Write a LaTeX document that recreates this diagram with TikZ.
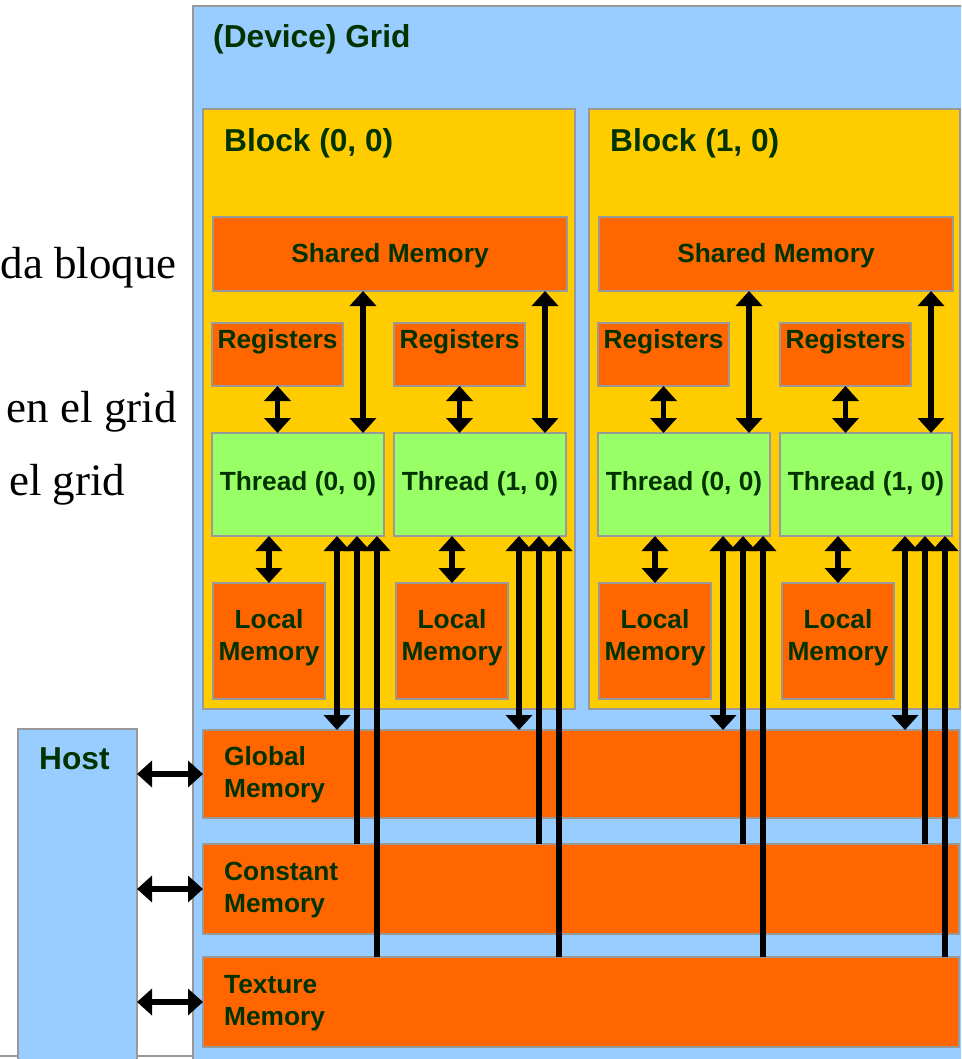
\documentclass[tikz,border=0pt]{standalone}
\usepackage{fontspec}
\setmainfont{Liberation Sans}
\newfontfamily\notefont{Liberation Serif}
\usetikzlibrary{arrows.meta,calc}

\definecolor{gridblue}{HTML}{99CCFF}
\definecolor{blockyellow}{HTML}{FFCC00}
\definecolor{memorange}{HTML}{FF6600}
\definecolor{threadgreen}{HTML}{99FF66}
\definecolor{edgegray}{HTML}{999999}
\definecolor{labelgreen}{HTML}{003300}

\tikzset{
  box/.style={draw=edgegray, line width=2pt, rectangle, inner sep=0pt,
              outer sep=0pt, anchor=north west},
  lbl/.style={text=labelgreen, inner sep=0pt,
              font=\bfseries\fontsize{26.3}{32}\selectfont},
  ttl/.style={lbl, font=\bfseries\fontsize{31.7}{38}\selectfont},
  note/.style={inner sep=0pt, font=\notefont\fontsize{45}{50}\selectfont},
  tip/.tip={Triangle[width=26pt,length=15pt]},
  dbl/.style={line width=5.5pt, tip-tip},
  upar/.style={line width=5.5pt, -tip},
}

\begin{document}
\begin{tikzpicture}[x=1pt,y=-1pt]
\useasboundingbox (0,0) rectangle (961,1059);
\clip (0,0) rectangle (961,1059);

% page edge line behind the host box
\draw[edgegray, line width=1.5pt] (0,1056) -- (193,1056);

% notes on the left
\node[note, anchor=base east] (n1) at (177,278) {da bloque};
\node[note, anchor=base east] (n2) at (177,422) {en el grid};
\node[note, anchor=base west] (n3) at (9,495) {el grid};

% device grid
\node[box, fill=gridblue, minimum width=800pt, minimum height=1100pt] (grid) at (193,6) {};
\node[ttl, anchor=base west] (gridlbl) at (213,48) {(Device) Grid};

% blocks with their shared memory, registers, threads and local memory
% (a two-line label is placed by the baseline of its last line)
\foreach \b/\ox/\bw in {0/0/372,1/386/371} {
  \node[box, fill=blockyellow, minimum width=\bw pt, minimum height=600pt] (blk\b) at (203+\ox,109) {};
  \node[ttl, anchor=base west] (blklbl\b) at (224+\ox,152) {Block (\b, 0)};
  \node[box, fill=memorange, minimum width=354pt, minimum height=74pt] (shm\b) at (213+\ox,217) {};
  \node[lbl, anchor=base] (shmlbl\b) at (390+\ox,262) {Shared Memory};
  \foreach \t/\tx/\lx in {0/0/0,1/182/183} {
    \node[box, fill=memorange, minimum width=131pt, minimum height=63pt] (reg\b\t) at (212+\ox+\tx,323) {};
    \node[lbl, anchor=base] (reglbl\b\t) at (277.5+\ox+\tx,348) {Registers};
    \node[box, fill=threadgreen, minimum width=172pt, minimum height=103pt] (thr\b\t) at (212+\ox+\tx,433) {};
    \node[lbl, anchor=base] (thrlbl\b\t) at (298+\ox+\tx,490) {Thread (\t, 0)};
    \node[box, fill=memorange, minimum width=112pt, minimum height=116pt] (loc\b\t) at (213+\ox+\lx,583) {};
    \node[lbl, anchor=base, align=center] (loclbl\b\t) at (269+\ox+\lx,660) {Local\\Memory};
  }
}

% global, constant and texture memory
\node[box, fill=memorange, minimum width=756pt, minimum height=88pt] (gmem) at (203,730) {};
\node[lbl, anchor=base west, align=left] (gmemlbl) at (224,797) {Global\\Memory};
\node[box, fill=memorange, minimum width=756pt, minimum height=90pt] (cmem) at (203,844) {};
\node[lbl, anchor=base west, align=left] (cmemlbl) at (224,912) {Constant\\Memory};
\node[box, fill=memorange, minimum width=756pt, minimum height=90pt] (tmem) at (203,957) {};
\node[lbl, anchor=base west, align=left] (tmemlbl) at (224,1025) {Texture\\Memory};

% host
\node[box, fill=gridblue, minimum width=119pt, minimum height=400pt] (host) at (18,729) {};
\node[ttl, anchor=base west] (hostlbl) at (39,769) {Host};

% host transfers
\draw[dbl] (host.east |- gmem.west) -- (gmem.west);
\draw[dbl] (host.east |- cmem.west) -- (cmem.west);
\draw[dbl] (host.east |- tmem.west) -- (tmem.west);

% per-thread memory accesses
\foreach \b in {0,1} {
  \foreach \t in {0,1} {
    \coordinate (sh\b\t) at ([xshift=-21pt]thr\b\t.north east);
    \coordinate (ga\b\t) at ([xshift=-47pt]thr\b\t.south east);
    \coordinate (ca\b\t) at ([xshift=-27pt]thr\b\t.south east);
    \coordinate (ta\b\t) at ([xshift=-7pt]thr\b\t.south east);
    \draw[dbl] (reg\b\t.south) -- (reg\b\t.south |- thr\b\t.north);
    \draw[dbl] (sh\b\t |- shm\b.south) -- (sh\b\t);
    \draw[dbl] (loc\b\t.north |- thr\b\t.south) -- (loc\b\t.north);
    \draw[dbl] (ga\b\t) -- (ga\b\t |- gmem.north);
    \draw[upar] (ca\b\t |- cmem.north) -- (ca\b\t);
    \draw[upar] (ta\b\t |- tmem.north) -- (ta\b\t);
  }
}
\end{tikzpicture}
\end{document}
